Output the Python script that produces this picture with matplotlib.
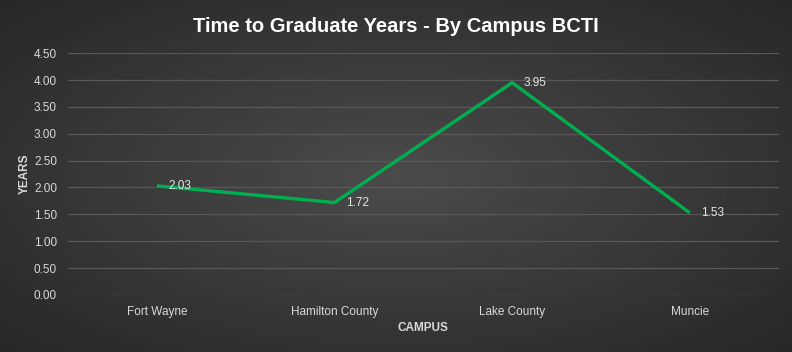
import matplotlib.pyplot as plt
import numpy as np

# du lieu
campuses = ['Fort Wayne', 'Hamilton County', 'Lake County', 'Muncie']
years = [2.03, 1.72, 3.95, 1.53]
yticks = [0.0, 0.5, 1.0, 1.5, 2.0, 2.5, 3.0, 3.5, 4.0, 4.5]

plt.rcParams['font.family'] = ['Liberation Sans', 'DejaVu Sans']

fig = plt.figure(figsize=(7.92, 3.52), dpi=100)

# nen gradient tron
bg = fig.add_axes([0, 0, 1, 1])
gx, gy = np.meshgrid(np.linspace(-1, 1, 400), np.linspace(-1, 1, 200))
r = np.sqrt(gx**2 + gy**2)
val = np.clip(0.295 - 0.1 * r, 0, 1)
bg.imshow(val, cmap='gray', vmin=0, vmax=1, aspect='auto', extent=[0, 1, 0, 1])
bg.axis('off')

ax = fig.add_axes([0.086, 0.162, 0.897, 0.687])
ax.patch.set_alpha(0)
x = np.arange(len(campuses))
ax.plot(x, years, color='#00b050', lw=2.4, solid_capstyle='butt', zorder=3)
for xi, v in zip(x, years):
    ax.annotate('%.2f' % v, (xi, v), xytext=(8, 0), textcoords='offset points',
                va='center', ha='left', color='#e6e6e6', fontsize=8.5, zorder=4)

ax.set_xlim(-0.5, len(campuses) - 0.5)
ax.set_ylim(0, 4.5)
ax.set_yticks(yticks)
ax.set_yticklabels(['%.2f' % t for t in yticks])
ax.set_xticks(x)
ax.set_xticklabels(campuses)
ax.tick_params(colors='#d9d9d9', labelsize=8.5, length=0, pad=8)
ax.grid(axis='y', color='#585858', lw=0.9)
ax.set_axisbelow(True)
for s in ax.spines.values():
    s.set_visible(False)
ax.set_xlabel('CAMPUS', color='#d9d9d9', fontsize=8.5, fontweight='bold', labelpad=3)
ax.set_ylabel('YEARS', color='#d9d9d9', fontsize=8.5, fontweight='bold', labelpad=2)

fig.text(0.5, 0.925, 'Time to Graduate Years - By Campus BCTI', ha='center', va='center',
         color='white', fontsize=14.5, fontweight='bold')

fig.savefig('out.png', dpi=100)
